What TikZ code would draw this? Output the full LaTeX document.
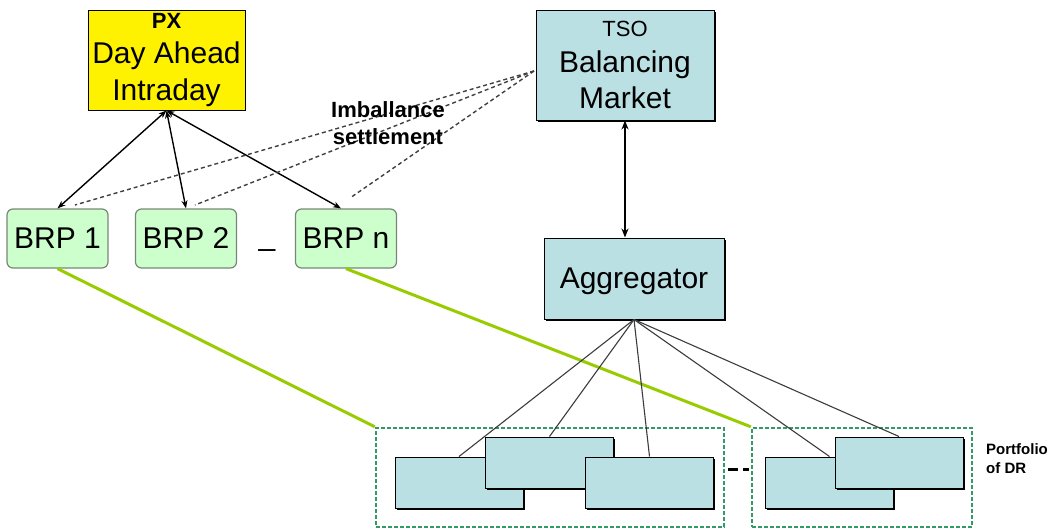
\documentclass[tikz,border=0pt]{standalone}
\usepackage{fontspec}
\setmainfont{Liberation Sans}
\usetikzlibrary{arrows.meta,shadows,calc}
\definecolor{boxblue}{RGB}{187,224,227}
\definecolor{brpgreen}{RGB}{204,255,204}
\definecolor{brpborder}{RGB}{120,135,120}
\definecolor{linkgreen}{RGB}{153,204,0}
\definecolor{portgreen}{RGB}{51,153,102}
\definecolor{hubgray}{RGB}{60,60,60}
\tikzset{
  big/.style={font=\fontsize{30}{36}\selectfont},
  pxbox/.style={draw=black, line width=1pt, fill=yellow, inner sep=0pt, align=center, big,
    minimum width=157pt, minimum height=100pt},
  bluebox/.style={draw=black, line width=1pt, fill=boxblue, inner sep=0pt, align=center, big,
    drop shadow={shadow xshift=1.5pt, shadow yshift=-1.5pt, fill=black, opacity=1}},
  brpbox/.style={draw=brpborder, line width=1.2pt, fill=brpgreen, rounded corners=6pt, inner sep=0pt,
    big, text depth=0pt, minimum width=101pt, minimum height=59pt},
  drbox/.style={bluebox, minimum width=128pt, minimum height=51pt},
  portbox/.style={draw=portgreen, line width=2.5pt, dash pattern=on 4pt off 2pt},
  twoway/.style={line width=1.4pt, {Stealth[length=8pt,width=6pt]}-{Stealth[length=8pt,width=6pt]}},
  settle/.style={line width=1.4pt, draw=black!75, dash pattern=on 4pt off 3pt},
  settlelabel/.style={font=\bfseries\fontsize{22}{27}\selectfont, align=center, inner sep=0pt},
  hubline/.style={draw=hubgray, line width=1.1pt},
  greenlink/.style={draw=linkgreen, line width=3pt},
}
\begin{document}
\begin{tikzpicture}[x=1pt,y=-1pt]
\useasboundingbox (0,0) rectangle (1051,528);
% portfolio frames
\node[portbox, minimum width=348pt, minimum height=99pt, inner sep=0pt] (P1) at (550,477.5) {};
\node[portbox, minimum width=220pt, minimum height=99pt, inner sep=0pt] (P2) at (862,477.5) {};
% top boxes
\node[pxbox] (PX) at (166.5,60) {\raisebox{-2pt}{\bfseries\fontsize{22}{36}\selectfont PX}\\[1pt]Day Ahead\\[1pt]Intraday};
\node[bluebox, minimum width=178pt, minimum height=110pt] (TSO) at (625,65) {{\fontsize{22}{36}\selectfont TSO}\\Balancing\\Market};
\node[bluebox, minimum width=180pt, minimum height=81pt, text depth=0pt] (AGG) at (634,278.5) {Aggregator};
% BRPs
\node[brpbox] (BRP1) at (57.5,238.5) {BRP 1};
\node[brpbox] (BRP2) at (186,238.5) {BRP 2};
\node[brpbox] (BRPn) at (346,238.5) {BRP n};
\node[big, anchor=base, inner sep=0pt] (dots1) at (267,245) {\_};
% green links
\draw[greenlink] (BRP1.south) -- (P1.north west);
\draw[greenlink] (BRPn.south) -- (P2.north west);
% DR boxes
\node[drbox] (A) at (459,482.5) {};
\node[drbox] (B) at (549.5,462.5) {};
\node[drbox] (C) at (649.5,482.5) {};
\node[drbox] (D) at (829.5,482.5) {};
\node[drbox] (E) at (899,462.5) {};
% aggregator to DR
\foreach \t in {A,B,C,D,E} \draw[hubline] (AGG.south) -- (\t.north);
% gap between portfolios
\draw[line width=3pt, dash pattern=on 10pt off 5pt] ([xshift=3pt,yshift=8.5pt]P1.east) -- ([xshift=-2pt,yshift=8.5pt]P2.west);
% PX to BRPs
\draw[twoway] (PX.south) -- (BRP1.north);
\draw[twoway] (PX.south) -- (BRP2.north);
\draw[twoway] (PX.south) -- ([xshift=-5pt]BRPn.north);
% TSO to Aggregator
\draw[line width=2pt, {Stealth[length=9pt,width=7pt]}-{Stealth[length=9pt,width=7pt]}] (TSO.south) -- (TSO.south |- AGG.north);
% imbalance settlement
\coordinate (tsoin) at (534,71);
\coordinate (s1) at (75,205);
\coordinate (s2) at (195,205);
\coordinate (s3) at (350,198);
\draw[settle] (tsoin) -- (s1);
\draw[settle] (tsoin) -- (s2);
\draw[settle] (tsoin) -- (s3);
\node[settlelabel] (imb) at (388,123) {Imballance\\settlement};
% portfolio label
\node[font=\bfseries\fontsize{15}{19}\selectfont, align=left, anchor=north west, inner sep=0pt] (port) at (986,443) {Portfolio\\of DR};
\end{tikzpicture}
\end{document}
